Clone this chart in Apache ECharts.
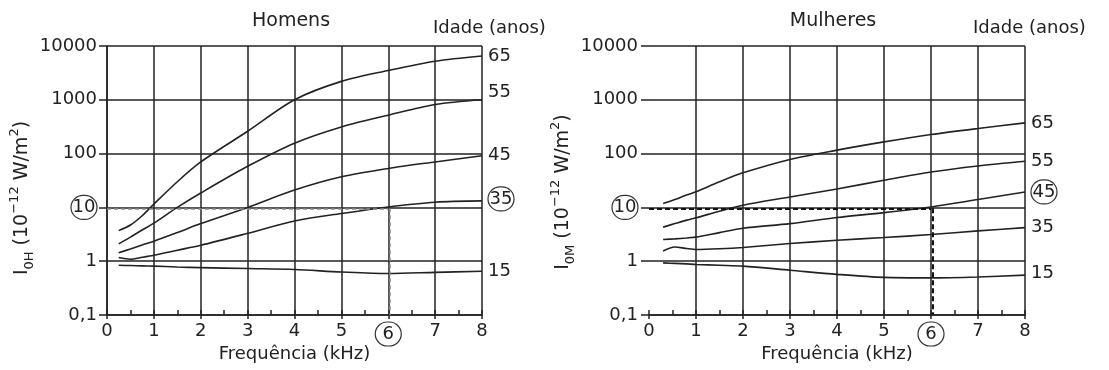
<!DOCTYPE html>
<html>
<head>
<meta charset="utf-8">
<script src="https://cdn.jsdelivr.net/npm/echarts@6/dist/echarts.min.js"></script>
<style>html,body{margin:0;padding:0;background:#fff}#c{width:1109px;height:370px}</style>
</head>
<body>
<div id="c"></div>
<script>
// ---- data ----
const freqMen   = [0.25, 0.5, 0.75, 1, 1.5, 2, 3, 4, 5, 6, 7, 8];
const men65 = [3.7, 4.7, 7, 11.5, 30, 70, 260, 1000, 2200, 3500, 5200, 6500];
const men55 = [2.1, 2.8, 3.8, 5.1, 10, 18.5, 58, 156, 313, 517, 816, 1000];
const men45 = [1.43, 1.69, 2.0, 2.35, 3.4, 5.0, 10, 21, 37, 53, 70, 91];
const men35 = [1.17, 1.09, 1.18, 1.29, 1.6, 1.98, 3.3, 5.6, 7.7, 10.2, 12.5, 13.2];
const men15 = [0.84, 0.83, 0.82, 0.81, 0.78, 0.76, 0.73, 0.70, 0.63, 0.59, 0.62, 0.65];

const freqWomen = [0.3, 0.55, 0.8, 1, 1.5, 2, 3, 4, 5, 6, 7, 8];
const women65 = [11.8, 14, 17, 19.5, 30, 44, 78, 116, 165, 226, 293, 372];
const women55 = [4.3, 5.0, 5.8, 6.4, 8.5, 11, 15.6, 22, 32, 45.6, 59, 72];
const women45 = [2.53, 2.6, 2.7, 2.8, 3.4, 4.1, 5.0, 6.5, 8.0, 10.2, 14, 19.4];
const women35 = [1.55, 1.84, 1.72, 1.65, 1.7, 1.8, 2.13, 2.45, 2.75, 3.13, 3.66, 4.2];
const women15 = [0.93, 0.91, 0.89, 0.87, 0.84, 0.81, 0.68, 0.57, 0.50, 0.49, 0.51, 0.55];

const ages = ['65', '55', '45', '35', '15'];
const circledAgeMen = '35';
const circledAgeWomen = '45';
const yTickValues = [0.1, 1, 10, 100, 1000, 10000];
const yTickTexts  = ['0,1', '1', '10', '100', '1000', '10000'];
const circledY = 10;
const circledX = 6;
const refLevel = 9.6;   // dashed guide drawn just under the 10 line
const refFreq = 6;

// ---- styling ----
const INK = '#222';
const FONT = 'DejaVu Sans';
const circleRich = {
  c: { borderColor: '#333', borderWidth: 1.2, borderRadius: 13, width: 26, height: 24,
       lineHeight: 24, align: 'center', fontSize: 18, fontFamily: FONT, color: INK }
};

function zip(xs, ys) { return xs.map((x, i) => [x, ys[i]]); }

function yFmt(v) {
  for (let i = 0; i < yTickValues.length; i++) {
    if (Math.abs(Math.log10(v) - Math.log10(yTickValues[i])) < 0.01) {
      return yTickValues[i] === circledY ? '{c|' + yTickTexts[i] + '}' : yTickTexts[i];
    }
  }
  return '';
}
function xFmt(v) {
  return Math.abs(v - circledX) < 1e-6 ? '{c|' + v + '}' : String(v);
}

function lineSeries(xs, ys, age, circled, xi, yi, offset) {
  return {
    type: 'line', xAxisIndex: xi, yAxisIndex: yi, data: zip(xs, ys),
    symbol: 'none', smooth: 0.3, silent: true,
    lineStyle: { color: INK, width: 1.6 },
    endLabel: {
      show: true, distance: 6, offset: offset || [0, 0],
      formatter: () => age === circled ? '{c|' + age + '}' : age,
      fontSize: 18, fontFamily: FONT, color: INK, rich: circleRich
    }
  };
}

function guide(xi, yi, color, width, dash) {
  return {
    type: 'line', xAxisIndex: xi, yAxisIndex: yi, data: [], silent: true,
    markLine: {
      silent: true, symbol: ['none', 'none'], label: { show: false },
      lineStyle: { color: color, width: width, type: dash },
      data: [
        [{ coord: [0, refLevel] }, { coord: [refFreq, refLevel] }],
        [{ coord: [refFreq + 0.03, refLevel] }, { coord: [refFreq + 0.03, 0.1] }]
      ]
    }
  };
}

function mainX(grid, hideFirst) {
  const colors = [];
  for (let i = 0; i <= 8; i++) colors.push(hideFirst && i === 0 ? 'rgba(0,0,0,0)' : INK);
  return {
    gridIndex: grid, type: 'value', min: 0, max: 8, interval: 1,
    name: 'Frequência (kHz)', nameLocation: 'middle', nameGap: 30, nameMoveOverlap: false,
    nameTextStyle: { fontSize: 18, fontFamily: FONT, color: INK },
    axisLine: { show: true, lineStyle: { color: INK, width: 1.5 } },
    axisTick: { show: true, inside: false, length: 4, lineStyle: { color: INK, width: 1.5 } },
    axisLabel: { margin: 7, fontSize: 18, fontFamily: FONT, color: INK, formatter: xFmt, rich: circleRich },
    splitLine: { show: true, lineStyle: { color: colors, width: 1.5 } }
  };
}
function minorX(grid) {
  return {
    gridIndex: grid, type: 'value', min: 0, max: 8, interval: 0.5, position: 'bottom',
    axisLine: { show: false },
    axisTick: { show: true, inside: true, length: 5, lineStyle: { color: INK, width: 1.5 } },
    axisLabel: { show: false }, splitLine: { show: false }
  };
}
function yAx(grid, showLine, margin) {
  return {
    gridIndex: grid, type: 'log', logBase: 10, min: 0.1, max: 10000,
    axisLine: { show: showLine, lineStyle: { color: INK, width: 1.5 } },
    axisTick: { show: true, inside: false, length: 8, lineStyle: { color: INK, width: 1.5 } },
    axisLabel: { margin: margin, fontSize: 18, fontFamily: FONT, color: INK, formatter: yFmt, rich: circleRich },
    splitLine: { show: true, lineStyle: { color: INK, width: 1.5 } },
    minorTick: { show: false }, minorSplitLine: { show: false }
  };
}

const nameRich = {
  m: { fontSize: 19, fontFamily: FONT, fill: INK, lineHeight: 28, verticalAlign: 'middle' },
  s: { fontSize: 13, fontFamily: FONT, fill: INK, lineHeight: 13, verticalAlign: 'bottom' },
  p: { fontSize: 13, fontFamily: FONT, fill: INK, lineHeight: 13, verticalAlign: 'top' }
};
function yName(x, y, sub) {
  return {
    type: 'text', x: x, y: y, rotation: Math.PI / 2, silent: true,
    style: {
      text: '{m|I}{s|' + sub + '}{m| (10}{p|−12}{m| W/m}{p|2}{m|)}',
      rich: nameRich, align: 'center', verticalAlign: 'middle', fill: INK
    }
  };
}
function label(text, x, y, align, size) {
  return {
    type: 'text', x: x, y: y, silent: true,
    style: { text: text, fontSize: size || 18, fontFamily: FONT, fill: INK, align: align, verticalAlign: 'middle' }
  };
}

const option = {
  animation: false,
  backgroundColor: '#fff',
  textStyle: { fontFamily: FONT },
  grid: [
    { left: 107, right: 627, top: 46, bottom: 55, containLabel: false },
    { left: 649, right: 84, top: 46, bottom: 55, containLabel: false }
  ],
  xAxis: [mainX(0, false), minorX(0), mainX(1, true), minorX(1)],
  yAxis: [yAx(0, true, 10), yAx(1, false, 11)],
  graphic: [
    label('Homens', 291, 21, 'center', 19),
    label('Idade (anos)', 433, 28, 'left'),
    label('Mulheres', 833, 21, 'center', 19),
    label('Idade (anos)', 973, 28, 'left'),
    yName(22, 198, '0H'),
    yName(563, 192, '0M')
  ],
  series: [
    guide(0, 0, '#888', 1.5, [4, 3]),
    lineSeries(freqMen, men65, ages[0], circledAgeMen, 0, 0),
    lineSeries(freqMen, men55, ages[1], circledAgeMen, 0, 0, [0, -7]),
    lineSeries(freqMen, men45, ages[2], circledAgeMen, 0, 0),
    lineSeries(freqMen, men35, ages[3], circledAgeMen, 0, 0, [0, -2]),
    lineSeries(freqMen, men15, ages[4], circledAgeMen, 0, 0),
    guide(2, 1, '#111', 2, [5, 3]),
    lineSeries(freqWomen, women65, ages[0], circledAgeWomen, 2, 1),
    lineSeries(freqWomen, women55, ages[1], circledAgeWomen, 2, 1),
    lineSeries(freqWomen, women45, ages[2], circledAgeWomen, 2, 1),
    lineSeries(freqWomen, women35, ages[3], circledAgeWomen, 2, 1),
    lineSeries(freqWomen, women15, ages[4], circledAgeWomen, 2, 1, [0, -2])
  ]
};

const chart = echarts.init(document.getElementById('c'), null, { renderer: 'canvas' });
chart.setOption(option);
</script>
</body>
</html>
